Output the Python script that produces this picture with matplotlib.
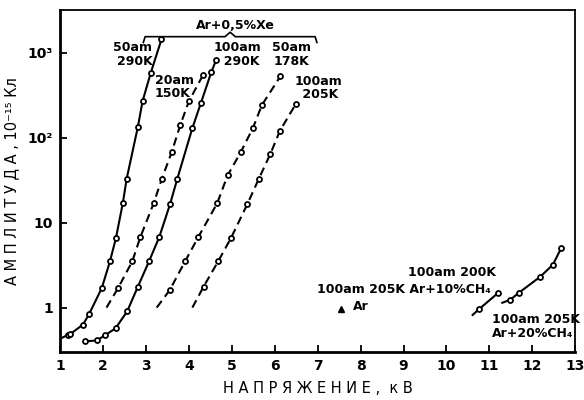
import matplotlib
matplotlib.use("Agg")
import matplotlib.pyplot as plt
from matplotlib.ticker import FixedLocator, NullLocator

plt.rcParams['font.family'] = ['DejaVu Sans']
plt.rcParams['font.weight'] = 'bold'

# Ar + 0.5% Xe, 50 at 290 K (solid)
v_50_290 = [1.00, 1.19, 1.24, 1.53, 1.67, 1.97, 2.16, 2.30, 2.46, 2.55, 2.81, 2.92, 3.11, 3.36]
a_50_290 = [0.43, 0.48, 0.49, 0.63, 0.83, 1.7, 3.5, 6.6, 17, 33, 134, 270, 580, 1440]

# 20 at 150 K (dashed)
v_20_150 = [2.08, 2.35, 2.68, 2.87, 3.18, 3.37, 3.60, 3.80, 4.00, 4.33]
a_20_150 = [1.0, 1.7, 3.5, 6.8, 17, 33, 68, 142, 270, 550]

# 100 at 290 K (solid)
v_100_290 = [1.58, 1.85, 2.04, 2.29, 2.56, 2.81, 3.07, 3.31, 3.56, 3.73, 4.08, 4.28, 4.52, 4.63]
a_100_290 = [0.40, 0.41, 0.47, 0.57, 0.9, 1.76, 3.5, 6.8, 16.5, 33, 130, 258, 590, 815]

# 50 at 178 K (dashed)
v_50_178 = [3.25, 3.55, 3.91, 4.22, 4.66, 4.90, 5.21, 5.49, 5.70, 6.13]
a_50_178 = [1.0, 1.6, 3.5, 6.8, 17, 36, 68, 130, 243, 530]

# 100 at 205 K (dashed)
v_100_205 = [4.08, 4.34, 4.68, 4.98, 5.36, 5.63, 5.90, 6.12, 6.49]
a_100_205 = [1.0, 1.76, 3.5, 6.6, 16.5, 33, 65, 121, 250]

# pure Ar, 100 at 205 K
v_ar = [7.55]
a_ar = [0.97]

# Ar + 10% CH4, 100 at 200 K
v_ch4_10 = [10.61, 10.75, 11.21]
a_ch4_10 = [0.82, 0.95, 1.5]

# Ar + 20% CH4, 100 at 205 K
v_ch4_20 = [11.30, 11.49, 11.69, 12.18, 12.48, 12.67]
a_ch4_20 = [1.14, 1.24, 1.5, 2.3, 3.2, 5.0]

x_ticks = list(range(1, 14))
y_ticks = [1, 10, 100, 1000]
y_tick_labels = ['1', '10', '10²', '10³']

fig = plt.figure(figsize=(5.84, 4.0), dpi=100)
ax = fig.add_axes([0.103, 0.12, 0.882, 0.855])

mk = dict(marker='o', ms=3.6, mfc='white', mec='black', mew=1.3, color='black', lw=1.5)
ax.plot(v_50_290, a_50_290, '-', markevery=slice(1, None), **mk)
ax.plot(v_20_150, a_20_150, '--', dashes=(4, 2.5), markevery=slice(1, None), **mk)
ax.plot(v_100_290, a_100_290, '-', **mk)
ax.plot(v_50_178, a_50_178, '--', dashes=(4, 2.5), markevery=slice(1, None), **mk)
ax.plot(v_100_205, a_100_205, '--', dashes=(4, 2.5), markevery=slice(1, None), **mk)
ax.plot(v_ar, a_ar, '^', color='black', ms=4.5, ls='none')
ax.plot(v_ch4_10, a_ch4_10, '-', markevery=slice(1, None), **mk)
ax.plot(v_ch4_20, a_ch4_20, '-', markevery=slice(1, None), **mk)

ax.set_yscale('log')
ax.set_xlim(1, 13)
ax.set_ylim(0.3, 3200)
ax.xaxis.set_major_locator(FixedLocator(x_ticks))
ax.yaxis.set_major_locator(FixedLocator(y_ticks))
ax.yaxis.set_minor_locator(NullLocator())
ax.set_yticklabels(y_tick_labels)
ax.tick_params(direction='in', length=5, width=1.3, labelsize=10, pad=5)

for side in ('left', 'bottom'):
    ax.spines[side].set_linewidth(2.0)
for side in ('top', 'right'):
    ax.spines[side].set_linewidth(1.3)

fs = 9
ax.text(3.15, 960, '50am\n290K', ha='right', va='center', fontsize=fs, linespacing=1.05)
ax.text(3.20, 395, '20am\n150K', ha='left', va='center', fontsize=fs, linespacing=1.05)
ax.text(5.12, 960, '100am\n  290K', ha='center', va='center', fontsize=fs, linespacing=1.05)
ax.text(6.39, 960, '50am\n178K', ha='center', va='center', fontsize=fs, linespacing=1.05)
ax.text(7.02, 385, '100am\n 205K', ha='center', va='center', fontsize=fs, linespacing=1.05)
ax.text(10.14, 2.6, '100am 200K', ha='center', va='center', fontsize=fs)
ax.text(9.0, 1.62, '100am 205K Ar+10%CH₄', ha='center', va='center', fontsize=fs)
ax.text(7.83, 1.03, 'Ar', ha='left', va='center', fontsize=fs)
ax.text(11.05, 0.6, '100am 205K\nAr+20%CH₄', ha='left', va='center', fontsize=fs, linespacing=1.15)

# bracket over the Ar + 0.5% Xe curves
bx = [0.1615, 0.165, 0.32, 0.33, 0.34, 0.495, 0.4985]
by = [0.905, 0.922, 0.922, 0.935, 0.922, 0.922, 0.905]
ax.plot(bx, by, color='black', lw=1.2, transform=ax.transAxes, clip_on=False)
ax.text(0.34, 0.955, 'Ar+0,5%Xe', transform=ax.transAxes, ha='center', va='center', fontsize=fs)

ax.set_xlabel('Н А П Р Я Ж Е Н И Е ,  к В', fontsize=10.5, labelpad=6)
ax.set_ylabel('А М П Л И Т У Д А , 10⁻¹⁵ Кл', fontsize=10.5, labelpad=6)

fig.savefig('out.png', dpi=100)
